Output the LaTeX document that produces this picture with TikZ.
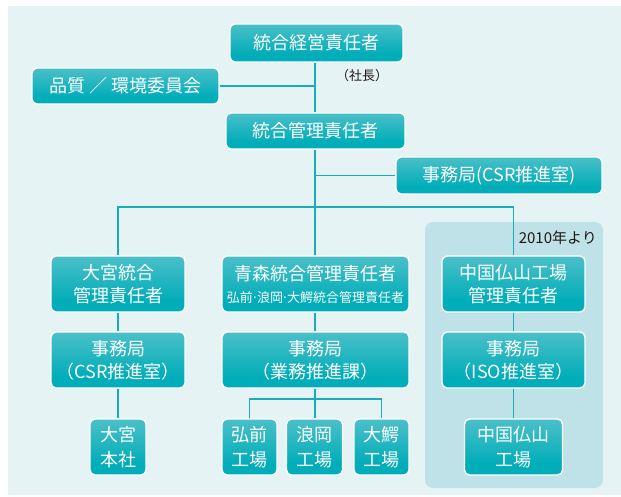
\documentclass[tikz,border=0pt]{standalone}
\usepackage{fontspec}
\newfontfamily\jp{Noto Sans CJK JP}
\definecolor{bgc}{HTML}{E5F3F5}
\definecolor{panelc}{HTML}{BEE2E8}
\definecolor{linec}{HTML}{17AEBA}
\definecolor{boxdark}{HTML}{00ADB9}
\definecolor{boxlight}{HTML}{7ACBD2}
\definecolor{txtdark}{HTML}{231815}
\pgfdeclareverticalshading{boxshade}{100bp}{color(0bp)=(boxdark); color(35bp)=(boxdark); color(100bp)=(boxlight)}
\newcommand{\narrowdot}{\kern-0.12em·\kern-0.12em}
\tikzset{
  orgbox/.style={shading=boxshade, draw=white, line width=1.4pt, rounded corners=5pt,
    text=white, inner sep=0pt, align=center,
    font=\jp\fontsize{18}{23}\selectfont},
  conn/.style={draw=linec, line width=1.6pt},
  note/.style={text=txtdark, inner sep=0pt}
}
\begin{document}
\begin{tikzpicture}[x=1pt,y=-1pt]
\useasboundingbox (0,0) rectangle (621,497);
\fill[bgc] (8,6) rectangle (621,495);
\fill[panelc, rounded corners=8pt] (425,222) rectangle (603,488);
\node[note, anchor=east, font=\jp\fontsize{15}{17}\selectfont] (since) at (597,238) {2010年より};
% coordinates
\coordinate (br) at (315,207);
\coordinate (fb) at (315,399);
% nodes
\node[orgbox, minimum width=173, minimum height=38] (top) at (316.5,43) {統合経営責任者};
\node[orgbox, minimum width=187, minimum height=36] (qe) at (125.5,86) {品質 ／ 環境委員会};
\node[orgbox, minimum width=179, minimum height=36] (mgr) at (315.5,131) {統合管理責任者};
\node[orgbox, minimum width=206, minimum height=37] (sec) at (499,175.5) {事務局(CSR推進室)};
\node[note, font=\jp\fontsize{13}{15}\selectfont] (shacho) at (362,76) {（社長）};
% row 1
\node[orgbox, minimum width=134, minimum height=56] (o1) at (118,284) {大宮統合\\管理責任者};
\node[orgbox, minimum width=187, minimum height=56] (a1) at (315.5,284) {青森統合管理責任者\\[-1pt]{\fontsize{13}{15}\selectfont 弘前\narrowdot 浪岡\narrowdot 大鰐統合管理責任者}};
\node[orgbox, minimum width=143, minimum height=56] (c1) at (513.5,284) {中国仏山工場\\管理責任者};
% row 2
\node[orgbox, minimum width=134, minimum height=56] (o2) at (118,360) {事務局\\（CSR推進室）};
\node[orgbox, minimum width=187, minimum height=56] (a2) at (315.5,360) {事務局\\（業務推進課）};
\node[orgbox, minimum width=143, minimum height=56] (c2) at (513.5,360) {事務局\\（ISO推進室）};
% row 3
\node[orgbox, minimum width=56, minimum height=56, font=\jp\fontsize{18}{25}\selectfont] (o3) at (118,447) {大宮\\本社};
\node[orgbox, minimum width=55, minimum height=56, font=\jp\fontsize{18}{25}\selectfont] (f1) at (249.5,447) {弘前\\工場};
\node[orgbox, minimum width=56, minimum height=56, font=\jp\fontsize{18}{25}\selectfont] (f2) at (314.5,447) {浪岡\\工場};
\node[orgbox, minimum width=55, minimum height=56, font=\jp\fontsize{18}{25}\selectfont] (f3) at (381.5,447) {大鰐\\工場};
\node[orgbox, minimum width=98, minimum height=56, font=\jp\fontsize{18}{25}\selectfont] (c3) at (513.5,447) {中国仏山\\工場};
% connectors
\draw[conn] (top.south -| br) -- (mgr.north -| br);
\draw[conn] (qe.east) -- (qe.east -| br);
\draw[conn] (sec.west) -- (sec.west -| br);
\draw[conn] (mgr.south -| br) -- (br);
\draw[conn] (o1.north) |- (br) -| (c1.north);
\draw[conn] (br) -- (a1.north -| br);
\draw[conn] (o1.south) -- (o2.north);
\draw[conn] (a1.south -| br) -- (a2.north -| br);
\draw[conn] (c1.south) -- (c2.north);
\draw[conn] (o2.south) -- (o3.north);
\draw[conn] (c2.south) -- (c3.north);
\draw[conn] (a2.south -| fb) -- (fb);
\draw[conn] (f1.north) |- (fb) -| (f3.north);
\draw[conn] (fb) -- (f2.north -| fb);
\end{tikzpicture}
\end{document}
